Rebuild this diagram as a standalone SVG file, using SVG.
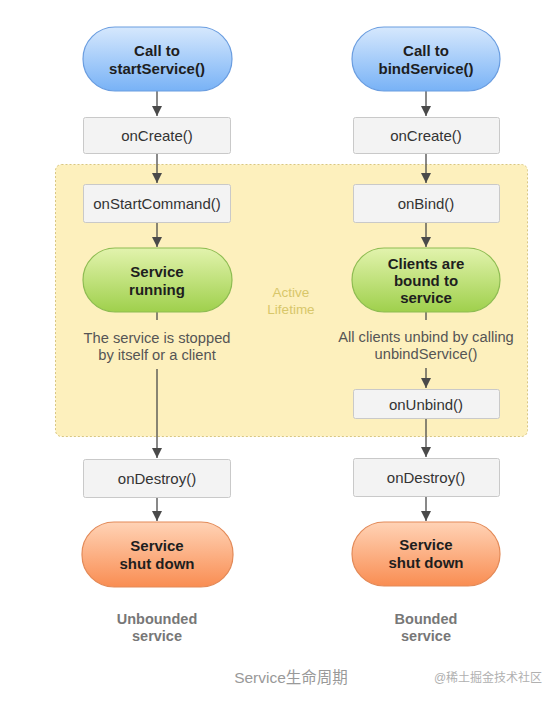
<svg xmlns="http://www.w3.org/2000/svg" width="557" height="703" viewBox="0 0 557 703">
<defs>
<linearGradient id="gBlue" x1="0" y1="0" x2="0" y2="1"><stop offset="0" stop-color="#d6e8fd"/><stop offset="1" stop-color="#78b2f6"/></linearGradient>
<linearGradient id="gGreen" x1="0" y1="0" x2="0" y2="1"><stop offset="0" stop-color="#e2f3ad"/><stop offset="1" stop-color="#9fd04c"/></linearGradient>
<linearGradient id="gOrange" x1="0" y1="0" x2="0" y2="1"><stop offset="0" stop-color="#ffd3b6"/><stop offset="1" stop-color="#f98d52"/></linearGradient>
<marker id="ah" viewBox="0 0 10 10" refX="10" refY="5" markerWidth="10" markerHeight="10" markerUnits="userSpaceOnUse" orient="auto"><path d="M0,0 L10,5 L0,10 z" fill="#4a4a4a"/></marker>
<style>
.box{fill:#f3f3f3;stroke:#c9c9c9;stroke-width:1}
.bl{fill:url(#gBlue);stroke:#6a9de0;stroke-width:1.2}
.gr{fill:url(#gGreen);stroke:#8ebc52;stroke-width:1.2}
.or{fill:url(#gOrange);stroke:#e38a58;stroke-width:1.2}
.t{font-family:"Liberation Sans",Arial,sans-serif;font-size:15px;fill:#333;text-anchor:middle}
.b{font-family:"Liberation Sans",Arial,sans-serif;font-size:15px;font-weight:bold;fill:#1e1e1e;text-anchor:middle}
.n{font-family:"Liberation Sans",Arial,sans-serif;font-size:14.7px;fill:#555;text-anchor:middle}
.lbl{font-family:"Liberation Sans",Arial,sans-serif;font-size:14.5px;font-weight:bold;fill:#777;text-anchor:middle}
.act{font-family:"Liberation Sans",Arial,sans-serif;font-size:13.5px;fill:#d8c76a;text-anchor:middle}
.c{stroke:#4a4a4a;stroke-width:1.3;fill:none}
</style>
</defs>
<rect width="557" height="703" fill="#ffffff"/>
<g id="active-lifetime">
<rect x="55.5" y="164.5" width="472" height="272" rx="6" fill="#fdf0bd" stroke="#d9c781" stroke-width="1" stroke-dasharray="2,2"/>
<text class="act" x="291" y="297">Active</text>
<text class="act" x="291" y="314">Lifetime</text>
</g>
<g id="connectors">
<line class="c" x1="157" y1="91" x2="157" y2="116" marker-end="url(#ah)"/>
<line class="c" x1="157" y1="153" x2="157" y2="183" marker-end="url(#ah)"/>
<line class="c" x1="157" y1="223" x2="157" y2="247" marker-end="url(#ah)"/>
<line class="c" x1="157" y1="312" x2="157" y2="320"/>
<line class="c" x1="157" y1="369" x2="157" y2="458" marker-end="url(#ah)"/>
<line class="c" x1="157" y1="498" x2="157" y2="521" marker-end="url(#ah)"/>
<line class="c" x1="426" y1="91" x2="426" y2="116" marker-end="url(#ah)"/>
<line class="c" x1="426" y1="153" x2="426" y2="183" marker-end="url(#ah)"/>
<line class="c" x1="426" y1="223" x2="426" y2="247" marker-end="url(#ah)"/>
<line class="c" x1="426" y1="312" x2="426" y2="320"/>
<line class="c" x1="426" y1="368" x2="426" y2="388" marker-end="url(#ah)"/>
<line class="c" x1="426" y1="418" x2="426" y2="457" marker-end="url(#ah)"/>
<line class="c" x1="426" y1="496" x2="426" y2="521" marker-end="url(#ah)"/>
</g>
<g id="start-call">
<rect class="bl" x="83" y="27" width="149" height="64" rx="32"/>
<text class="b" x="157" y="56">Call to</text>
<text class="b" x="157" y="74">startService()</text>
</g>
<g id="start-oncreate">
<rect class="box" x="83.5" y="117.5" width="147" height="36" rx="2"/>
<text class="t" x="157" y="140.5">onCreate()</text>
</g>
<g id="onstartcommand">
<rect class="box" x="83.5" y="184.5" width="147" height="38" rx="2"/>
<text class="t" x="157" y="209">onStartCommand()</text>
</g>
<g id="service-running">
<rect class="gr" x="83" y="248" width="149" height="64" rx="32"/>
<text class="b" x="157" y="277">Service</text>
<text class="b" x="157" y="295">running</text>
</g>
<text class="n" x="157" y="343">The service is stopped</text>
<text class="n" x="157" y="360">by itself or a client</text>
<g id="start-ondestroy">
<rect class="box" x="83.5" y="459.5" width="147" height="38" rx="2"/>
<text class="t" x="157" y="484">onDestroy()</text>
</g>
<g id="start-shutdown">
<rect class="or" x="82" y="522" width="151" height="65" rx="32"/>
<text class="b" x="157" y="551">Service</text>
<text class="b" x="157" y="569">shut down</text>
</g>
<text class="lbl" x="157" y="624">Unbounded</text>
<text class="lbl" x="157" y="641">service</text>
<g id="bind-call">
<rect class="bl" x="352" y="27" width="148" height="64" rx="32"/>
<text class="b" x="426" y="56">Call to</text>
<text class="b" x="426" y="74">bindService()</text>
</g>
<g id="bind-oncreate">
<rect class="box" x="353.5" y="117.5" width="146" height="36" rx="2"/>
<text class="t" x="426" y="140.5">onCreate()</text>
</g>
<g id="onbind">
<rect class="box" x="353.5" y="184.5" width="146" height="38" rx="2"/>
<text class="t" x="426" y="209">onBind()</text>
</g>
<g id="clients-bound">
<rect class="gr" x="352" y="248" width="148" height="64" rx="32"/>
<text class="b" x="426" y="269">Clients are</text>
<text class="b" x="426" y="286">bound to</text>
<text class="b" x="426" y="303">service</text>
</g>
<text class="n" x="426" y="342">All clients unbind by calling</text>
<text class="n" x="426" y="359">unbindService()</text>
<g id="onunbind">
<rect class="box" x="353.5" y="389.5" width="146" height="29" rx="2"/>
<text class="t" x="426" y="409.5">onUnbind()</text>
</g>
<g id="bind-ondestroy">
<rect class="box" x="353.5" y="458.5" width="146" height="38" rx="2"/>
<text class="t" x="426" y="482.5">onDestroy()</text>
</g>
<g id="bind-shutdown">
<rect class="or" x="352" y="522" width="148" height="64" rx="32"/>
<text class="b" x="426" y="550">Service</text>
<text class="b" x="426" y="568">shut down</text>
</g>
<text class="lbl" x="426" y="624">Bounded</text>
<text class="lbl" x="426" y="641">service</text>
<text x="291" y="683" font-family="'Liberation Sans','Noto Sans CJK SC',sans-serif" font-size="15.5" fill="#999" text-anchor="middle">Service生命周期</text>
<text x="488" y="682" font-family="'Liberation Sans','Noto Sans CJK SC',sans-serif" font-size="12" fill="#b0b0b0" text-anchor="middle">@稀土掘金技术社区</text>
</svg>
